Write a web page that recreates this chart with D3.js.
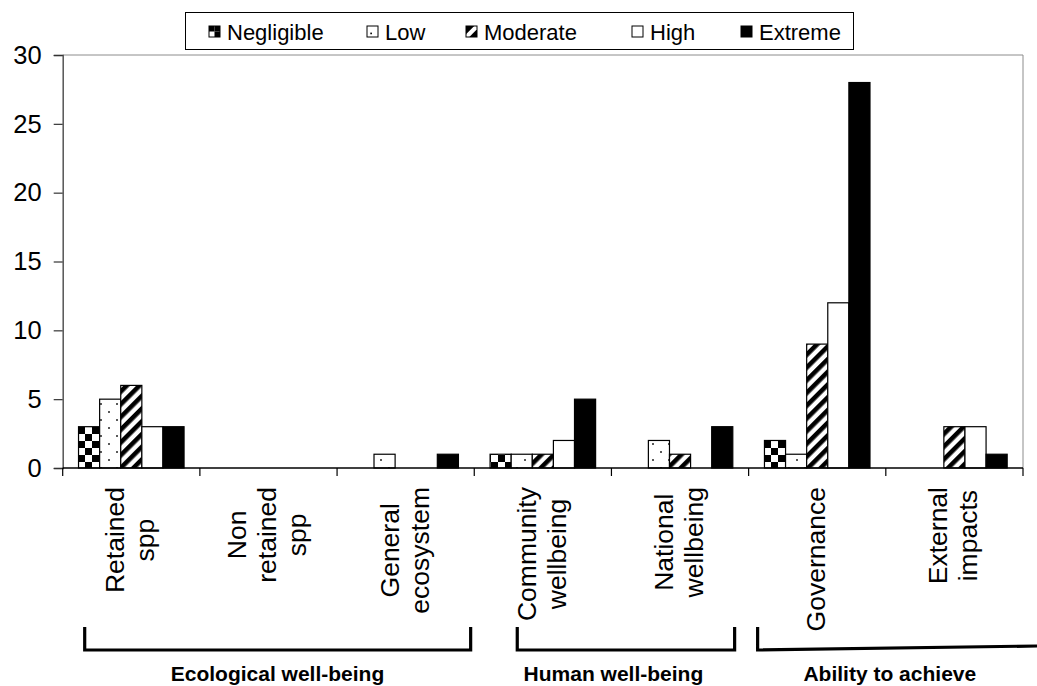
<!DOCTYPE html>
<html>
<head>
<meta charset="utf-8">
<script src="https://cdn.jsdelivr.net/npm/d3@7"></script>
<style>
  html, body { margin: 0; padding: 0; background: #fff; }
  svg { display: block; font-family: "Liberation Sans", Arial, sans-serif; }
</style>
</head>
<body>
<svg id="chart" width="1037" height="686"></svg>
<script>
// Categories along the x axis (words are wrapped onto separate lines)
const categories = [
  "Retained spp", "Non retained spp", "General ecosystem",
  "Community wellbeing", "National wellbeing", "Governance", "External impacts"
];

// Risk rating series
const seriesNames = ["Negligible", "Low", "Moderate", "High", "Extreme"];

// Number of issues per category for each rating
const negligible = [3, 0, 0, 1, 0, 2, 0];
const low        = [5, 0, 1, 1, 2, 1, 0];
const moderate   = [6, 0, 0, 1, 1, 9, 3];
const high       = [3, 0, 0, 2, 0, 12, 3];
const extreme    = [3, 0, 1, 5, 3, 28, 1];

const yTicks = [0, 5, 10, 15, 20, 25, 30];

// Component groupings drawn as brackets under the axis labels
const groupNames = ["Ecological well-being", "Human well-being", "Ability to achieve"];
const groupFirst = [0, 3, 5];
const groupLast  = [2, 4, 6];

const seriesValues = [negligible, low, moderate, high, extreme];
const fills = ["url(#pNeg)", "url(#pLow)", "url(#pMod)", "#ffffff", "#000000"];
const legendFills = ["url(#lNeg)", "url(#lLow)", "url(#lMod)", "#ffffff", "#000000"];

const svg = d3.select("#chart");
const W = 1037, H = 686;
const plot = { left: 62.7, right: 1023, top: 55, bottom: 468 };

// ---- fill patterns ----
const defs = svg.append("defs");

const pNeg = defs.append("pattern").attr("id", "pNeg")
  .attr("patternUnits", "userSpaceOnUse").attr("width", 14).attr("height", 14)
  .attr("x", 1).attr("y", 0);
pNeg.append("rect").attr("width", 14).attr("height", 14).attr("fill", "#fff");
pNeg.append("rect").attr("width", 7).attr("height", 7).attr("fill", "#000");
pNeg.append("rect").attr("x", 7).attr("y", 7).attr("width", 7).attr("height", 7).attr("fill", "#000");

const pLow = defs.append("pattern").attr("id", "pLow")
  .attr("patternUnits", "userSpaceOnUse").attr("width", 16).attr("height", 16)
  .attr("x", 1).attr("y", 0);
pLow.append("rect").attr("width", 16).attr("height", 16).attr("fill", "#fff");
pLow.append("circle").attr("cx", 4).attr("cy", 4).attr("r", 1).attr("fill", "#222");
pLow.append("circle").attr("cx", 12).attr("cy", 12).attr("r", 1).attr("fill", "#222");

const pMod = defs.append("pattern").attr("id", "pMod")
  .attr("patternUnits", "userSpaceOnUse").attr("width", 9).attr("height", 9)
  .attr("patternTransform", "rotate(45)");
pMod.append("rect").attr("width", 9).attr("height", 9).attr("fill", "#fff");
pMod.append("rect").attr("width", 4.6).attr("height", 9).attr("fill", "#000");

// small versions for the legend swatches
const lNeg = defs.append("pattern").attr("id", "lNeg")
  .attr("patternUnits", "objectBoundingBox").attr("patternContentUnits", "objectBoundingBox")
  .attr("width", 1).attr("height", 1);
lNeg.append("rect").attr("width", 1).attr("height", 1).attr("fill", "#fff");
lNeg.append("rect").attr("width", 0.5).attr("height", 0.5).attr("fill", "#000");
lNeg.append("rect").attr("x", 0.5).attr("y", 0.5).attr("width", 0.5).attr("height", 0.5).attr("fill", "#000");
lNeg.append("rect").attr("x", 0.5).attr("width", 0.5).attr("height", 0.5).attr("fill", "#000");

const lLow = defs.append("pattern").attr("id", "lLow")
  .attr("patternUnits", "objectBoundingBox").attr("patternContentUnits", "objectBoundingBox")
  .attr("width", 1).attr("height", 1);
lLow.append("rect").attr("width", 1).attr("height", 1).attr("fill", "#fff");
lLow.append("rect").attr("x", 0.3).attr("y", 0.6).attr("width", 0.15).attr("height", 0.15).attr("fill", "#000");

const lMod = defs.append("pattern").attr("id", "lMod")
  .attr("patternUnits", "objectBoundingBox").attr("patternContentUnits", "objectBoundingBox")
  .attr("width", 1).attr("height", 1);
lMod.append("rect").attr("width", 1).attr("height", 1).attr("fill", "#000");
lMod.append("path").attr("d", "M0,1 L0,0.75 L0.75,0 L1,0 L1,0.3 L0.3,1 Z").attr("fill", "#fff");

// ---- scales ----
const x0 = d3.scaleBand().domain(categories).range([plot.left, plot.right])
  .paddingInner(0).paddingOuter(0);
const x1 = d3.scaleBand().domain(d3.range(seriesNames.length))
  .range([0, x0.bandwidth()]).paddingInner(0).paddingOuter(0.75);
const y = d3.scaleLinear().domain([0, 30]).range([plot.bottom, plot.top]);

// ---- plot frame (top and right edges) ----
svg.append("path")
  .attr("d", `M${plot.left},${plot.top}H${plot.right}V${plot.bottom}`)
  .attr("fill", "none").attr("stroke", "#8c8c8c").attr("stroke-width", 1);

// ---- bars ----
const barData = [];
categories.forEach((c, ci) => {
  seriesValues.forEach((vals, si) => {
    if (vals[ci] > 0) barData.push({ c, si, v: vals[ci] });
  });
});

svg.append("g").selectAll("rect").data(barData).join("rect")
  .attr("x", d => x0(d.c) + x1(d.si))
  .attr("y", d => y(d.v))
  .attr("width", x1.bandwidth())
  .attr("height", d => y(0) - y(d.v))
  .attr("fill", d => fills[d.si])
  .attr("stroke", "#000").attr("stroke-width", 1.2);

// ---- y axis ----
const yAxis = svg.append("g")
  .attr("transform", `translate(${plot.left},0)`)
  .call(d3.axisLeft(y).tickValues(yTicks).tickSize(9).tickPadding(12).tickFormat(d3.format("d")));
yAxis.select(".domain").attr("stroke", "#555").attr("stroke-width", 1.5);
yAxis.selectAll(".tick line").attr("stroke", "#333").attr("stroke-width", 1.2);
yAxis.selectAll(".tick text").attr("font-size", 25.5).attr("fill", "#000")
  .attr("font-family", "Liberation Sans, Arial, sans-serif");

// ---- x axis: baseline and ticks between categories ----
svg.append("line")
  .attr("x1", plot.left).attr("x2", plot.right)
  .attr("y1", y(0)).attr("y2", y(0))
  .attr("stroke", "#000").attr("stroke-width", 1.5);

const boundaries = categories.map(c => x0(c)).concat([x0(categories[categories.length - 1]) + x0.bandwidth()]);
svg.append("g").selectAll("line").data(boundaries).join("line")
  .attr("x1", d => d).attr("x2", d => d)
  .attr("y1", y(0)).attr("y2", y(0) + 8)
  .attr("stroke", "#000").attr("stroke-width", 1.2);

// ---- category labels (rotated, lines centred, long line ending near the axis) ----
const lineGap = 30;
const labelTop = 487;
categories.forEach(c => {
  const words = c.split(" ");
  const cx = x0(c) + x0.bandwidth() / 2;
  const g = svg.append("g").attr("transform", `translate(${cx},${labelTop}) rotate(-90)`);
  const texts = words.map((w, i) => g.append("text")
    .attr("font-size", 26.5)
    .attr("text-anchor", "middle")
    .attr("y", (i - (words.length - 1) / 2) * lineGap + 8)
    .text(w));
  const maxW = d3.max(texts, t => t.node().getComputedTextLength());
  texts.forEach(t => t.attr("x", -maxW / 2));
});

// ---- group brackets ----
const bracketLeftPad  = [22, 43, 9];
const bracketRightPad = [-3.6, -14, null];
const labelShift = [9, 2, 4];
const bTop = 627, bBottom = 650;
groupNames.forEach((name, gi) => {
  const xs = x0(categories[groupFirst[gi]]) + bracketLeftPad[gi];
  const spanEnd = x0(categories[groupLast[gi]]) + x0.bandwidth();
  let d;
  if (bracketRightPad[gi] === null) {
    d = `M${xs},${bTop}V${bBottom}L${W},${bBottom - 4}`;
  } else {
    const xe = spanEnd + bracketRightPad[gi];
    d = `M${xs},${bTop}V${bBottom}H${xe}V${bTop}`;
  }
  svg.append("path").attr("d", d)
    .attr("fill", "none").attr("stroke", "#000").attr("stroke-width", 3.2);
  const cx = (x0(categories[groupFirst[gi]]) + spanEnd) / 2 + labelShift[gi];
  svg.append("text").attr("x", cx).attr("y", 681)
    .attr("text-anchor", "middle").attr("font-weight", "bold").attr("font-size", 21)
    .text(name);
});

// ---- legend ----
const legendX = [209, 367, 466, 632, 741];
const legend = svg.append("g");
legend.append("rect").attr("x", 185.5).attr("y", 12.5).attr("width", 668).attr("height", 37)
  .attr("fill", "#fff").attr("stroke", "#000").attr("stroke-width", 1);
seriesNames.forEach((name, i) => {
  legend.append("rect").attr("x", legendX[i]).attr("y", 26).attr("width", 11).attr("height", 11)
    .attr("fill", legendFills[i]).attr("stroke", "#000").attr("stroke-width", 1);
  legend.append("text").attr("x", legendX[i] + 18).attr("y", 40)
    .attr("font-size", 22).text(name);
});
</script>
</body>
</html>
